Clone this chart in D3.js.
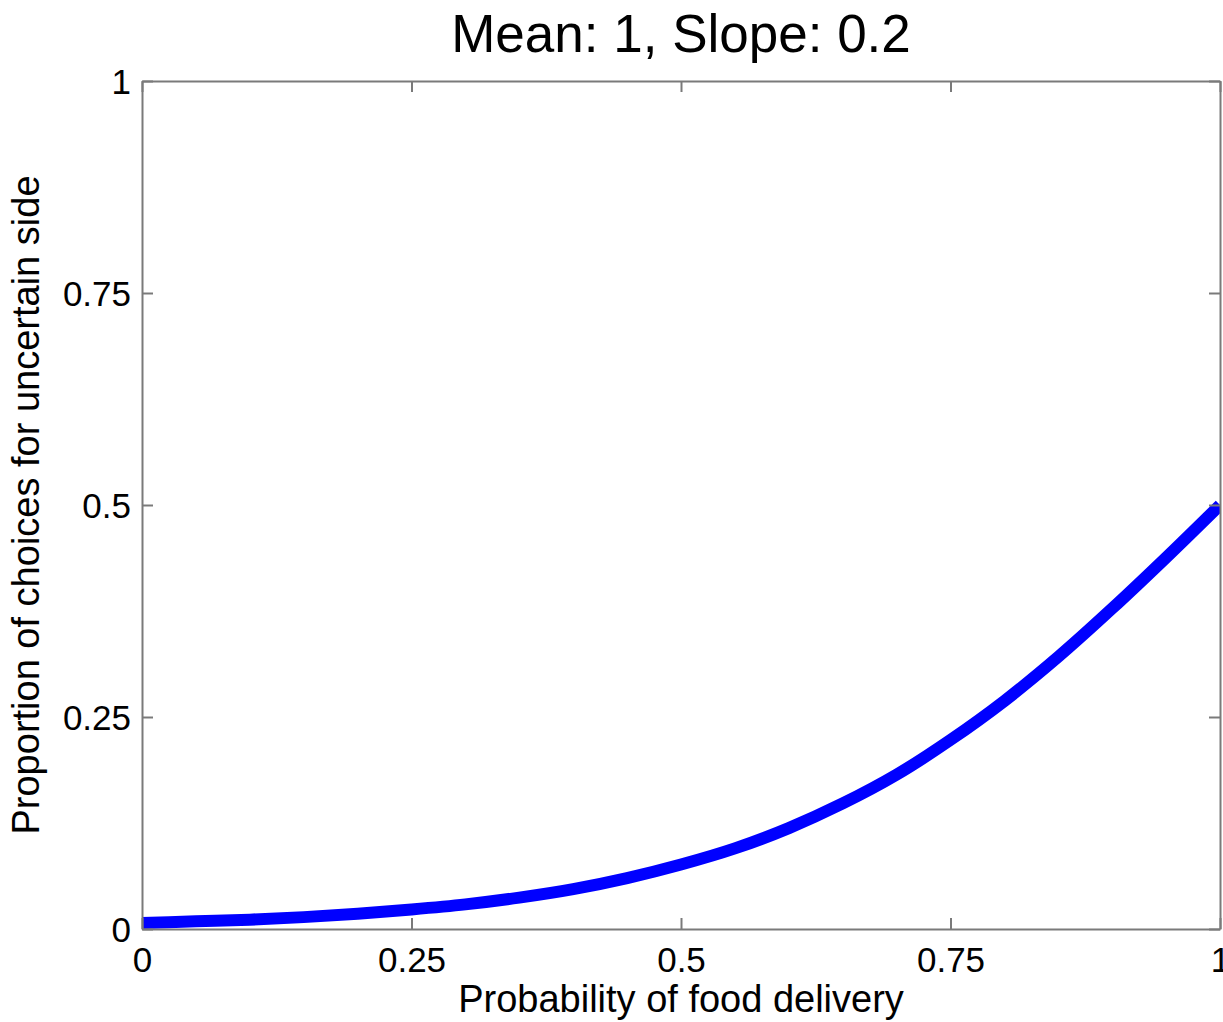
<!DOCTYPE html>
<html>
<head>
<meta charset="utf-8">
<script src="https://cdn.jsdelivr.net/npm/d3@7"></script>
<style>
  html, body { margin: 0; padding: 0; background: #fff; }
  svg { display: block; font-family: "Liberation Sans", Arial, sans-serif; }
</style>
</head>
<body>
<svg id="chart" width="1223" height="1022"></svg>
<script>
// Psychometric curve: probability of food delivery vs. choice proportion
const titleText = "Mean: 1, Slope: 0.2";
const xLabel = "Probability of food delivery";
const yLabel = "Proportion of choices for uncertain side";

const probability = [0, 0.05, 0.1, 0.15, 0.2, 0.25, 0.3, 0.35, 0.4, 0.45, 0.5,
                     0.55, 0.6, 0.65, 0.7, 0.75, 0.8, 0.85, 0.9, 0.95, 1];
const proportion = [0.007, 0.009, 0.011, 0.014, 0.018, 0.023, 0.029, 0.037, 0.047, 0.060, 0.076,
                    0.095, 0.119, 0.148, 0.182, 0.223, 0.269, 0.321, 0.378, 0.438, 0.500];

const xTicks = [0, 0.25, 0.5, 0.75, 1];
const yTicks = [0, 0.25, 0.5, 0.75, 1];
const tickLabels = ["0", "0.25", "0.5", "0.75", "1"];

const plotLeft = 142, plotRight = 1220, plotTop = 81, plotBottom = 929;
const tickLen = 11;
const frameColor = "#7a7a7a";

const svg = d3.select("#chart");
const x = d3.scaleLinear().domain([0, 1]).range([plotLeft, plotRight]);
const y = d3.scaleLinear().domain([0, 1]).range([plotBottom, plotTop]);

// clip path for the curve
svg.append("defs").append("clipPath").attr("id", "plotClip")
  .append("rect").attr("x", plotLeft).attr("y", plotTop)
  .attr("width", plotRight - plotLeft).attr("height", plotBottom - plotTop);

const data = probability.map((p, i) => ({ p, v: proportion[i] }));

svg.append("path")
  .datum(data)
  .attr("clip-path", "url(#plotClip)")
  .attr("fill", "none")
  .attr("stroke", "#0000ff")
  .attr("stroke-width", 12)
  .attr("stroke-linejoin", "round")
  .attr("d", d3.line().x(d => x(d.p)).y(d => y(d.v)).curve(d3.curveMonotoneX));

// frame axes with inward ticks on all four sides
function styleAxis(g) {
  g.select(".domain").attr("stroke", frameColor).attr("stroke-width", 2);
  g.selectAll(".tick line").attr("stroke", frameColor).attr("stroke-width", 2);
  g.selectAll(".tick text").attr("fill", "#000").attr("font-size", 35)
    .attr("font-family", "Liberation Sans, Arial, sans-serif");
}

const xAxisG = svg.append("g").attr("transform", `translate(0,${plotBottom})`)
  .call(d3.axisBottom(x).tickValues(xTicks).tickFormat((d, i) => tickLabels[i])
    .tickSizeInner(-tickLen).tickSizeOuter(0))
  .call(styleAxis);

svg.append("g").attr("transform", `translate(0,${plotTop})`)
  .call(d3.axisTop(x).tickValues(xTicks).tickFormat("").tickSizeInner(-tickLen).tickSizeOuter(0))
  .call(styleAxis);

const yAxisG = svg.append("g").attr("transform", `translate(${plotLeft},0)`)
  .call(d3.axisLeft(y).tickValues(yTicks).tickFormat((d, i) => tickLabels[i])
    .tickSizeInner(-tickLen).tickSizeOuter(0))
  .call(styleAxis);

svg.append("g").attr("transform", `translate(${plotRight},0)`)
  .call(d3.axisRight(y).tickValues(yTicks).tickFormat("").tickSizeInner(-tickLen).tickSizeOuter(0))
  .call(styleAxis);

// inward ticks would push labels inside; place them outside the frame
xAxisG.selectAll(".tick text").attr("y", 18).attr("dy", "0.71em");
yAxisG.selectAll(".tick text").attr("x", -11).attr("dy", "0.35em");

// title and axis labels
svg.append("text").attr("x", (plotLeft + plotRight) / 2).attr("y", 52)
  .attr("text-anchor", "middle").attr("font-size", 53).attr("fill", "#000").text(titleText);

svg.append("text").attr("x", (plotLeft + plotRight) / 2).attr("y", 1012)
  .attr("text-anchor", "middle").attr("font-size", 38).attr("fill", "#000").text(xLabel);

svg.append("text").attr("transform", `translate(39,${(plotTop + plotBottom) / 2}) rotate(-90)`)
  .attr("text-anchor", "middle").attr("font-size", 38).attr("fill", "#000").text(yLabel);
</script>
</body>
</html>
